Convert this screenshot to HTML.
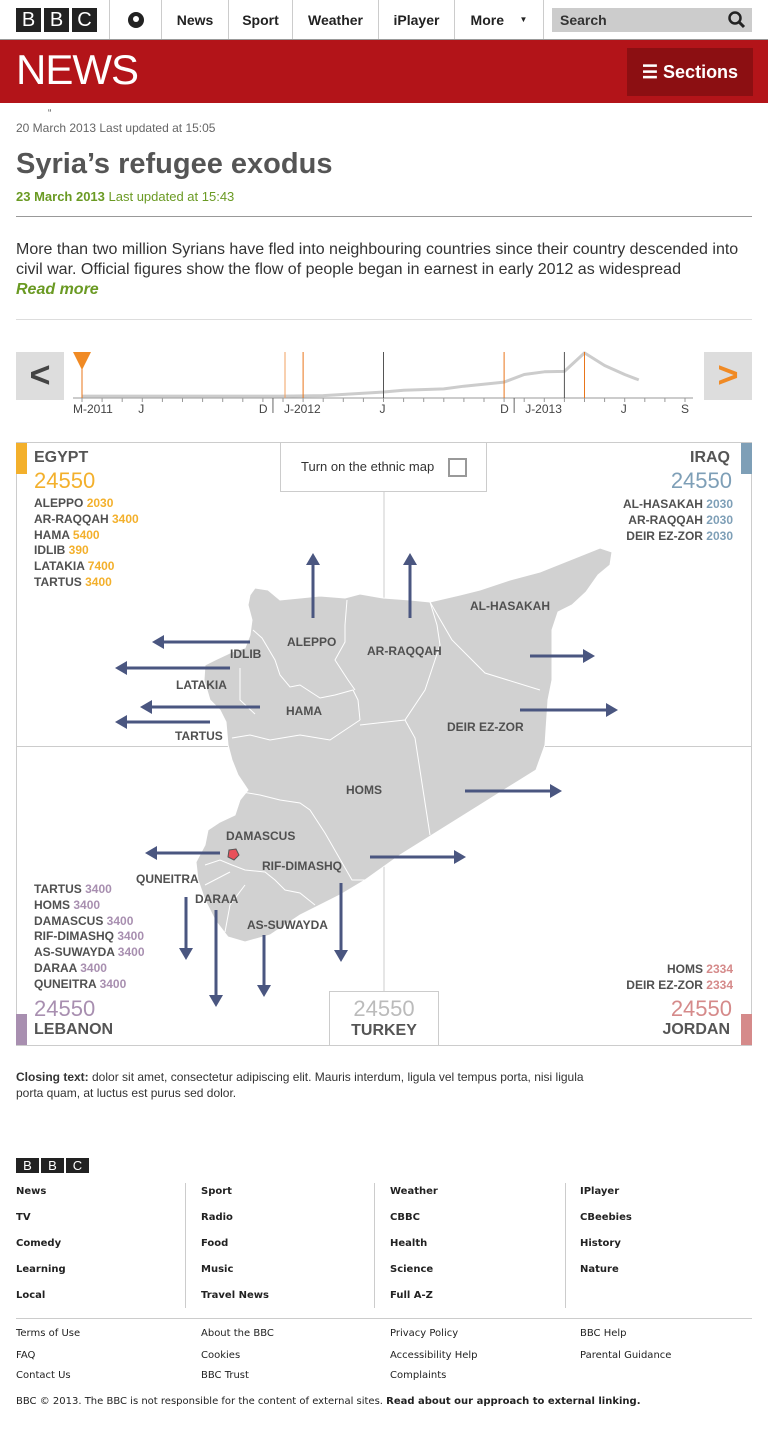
<!DOCTYPE html>
<html><head><meta charset="utf-8"><style>
*{box-sizing:border-box;margin:0;padding:0}
body{width:768px;height:1441px;background:#fff;font-family:"Liberation Sans",sans-serif;position:relative;overflow:hidden;color:#333}
.a{position:absolute}
.nav{position:absolute;top:0;height:39px;border-left:1px solid #ccc;font-size:14px;font-weight:bold;color:#222;display:flex;align-items:center;justify-content:center}
.lbl{position:absolute;font-size:12px;font-weight:bold;color:#505050;white-space:nowrap}
.list{position:absolute;font-size:12px;font-weight:bold;color:#505050;line-height:15.8px}
.fl{position:absolute;font-size:10px;font-weight:bold;color:#222;font-family:"DejaVu Sans",sans-serif;white-space:nowrap}
.fs{position:absolute;font-size:10px;color:#222;font-family:"DejaVu Sans",sans-serif;white-space:nowrap}
</style></head><body>
<!-- top bar -->
<div class="a" style="left:16px;top:8px;display:flex;gap:3px">
<span style="width:25px;height:24px;background:#222;color:#fff;font-size:20px;text-align:center;line-height:24px">B</span><span style="width:25px;height:24px;background:#222;color:#fff;font-size:20px;text-align:center;line-height:24px">B</span><span style="width:25px;height:24px;background:#222;color:#fff;font-size:20px;text-align:center;line-height:24px">C</span></div>
<div class="nav" style="left:109px;width:52px"><span style="width:16px;height:16px;border-radius:50%;background:#222;display:block;position:relative"><span style="position:absolute;left:5px;top:4px;width:6px;height:6px;border-radius:50%;background:#fff"></span></span></div>
<div class="nav" style="left:161px;width:67px">News</div>
<div class="nav" style="left:228px;width:64px">Sport</div>
<div class="nav" style="left:292px;width:86px">Weather</div>
<div class="nav" style="left:378px;width:76px">iPlayer</div>
<div class="nav" style="left:454px;width:90px;border-right:1px solid #ccc">More&nbsp;&nbsp;&nbsp;&nbsp;<span style="font-size:8px">▼</span></div>
<div class="a" style="left:552px;top:8px;width:200px;height:24px;background:#ccc;font-size:14px;font-weight:bold;color:#333;line-height:24px;padding-left:8px">Search
<svg style="position:absolute;right:6px;top:3px" width="18" height="18"><circle cx="7" cy="7" r="5.5" fill="none" stroke="#222" stroke-width="2.5"/><line x1="11" y1="11" x2="16" y2="16" stroke="#222" stroke-width="3"/></svg></div>
<div class="a" style="left:0;top:39px;width:768px;height:64px;background:#b31419;border-top:1px solid #999"></div>
<div class="a" style="left:16px;top:48px;font-size:42px;color:#fff;letter-spacing:-1px;line-height:44px">NEWS</div>
<div class="a" style="left:627px;top:48px;width:126px;height:48px;background:#8c0f12;color:#fff;font-size:18px;font-weight:bold;line-height:48px;text-align:center">☰ Sections</div>
<!-- article head -->
<div class="a" style="left:48px;top:108px;font-size:10px;color:#555">“</div>
<div class="a" style="left:16px;top:121px;font-size:12px;color:#666">20 March 2013 Last updated at 15:05</div>
<div class="a" style="left:16px;top:148px;font-size:29px;font-weight:bold;color:#555">Syria’s refugee exodus</div>
<div class="a" style="left:16px;top:189px;font-size:13px;color:#6a9a23"><b>23 March 2013</b> Last updated at 15:43</div>
<div class="a" style="left:16px;top:216px;width:736px;border-top:1px solid #999"></div>
<div class="a" style="left:16px;top:240px;width:740px;font-size:16px;line-height:20px;color:#333">More than two million Syrians have fled into neighbouring countries since their country descended into civil war. Official figures show the flow of people began in earnest in early 2012 as widespread</div>
<div class="a" style="left:16px;top:281px;font-size:16px;font-weight:bold;font-style:italic;color:#6a9a23">Read more</div>
<div class="a" style="left:16px;top:319px;width:736px;border-top:1px solid #ddd"></div>
<!-- timeline -->
<div class="a" style="left:16px;top:352px;width:48px;height:48px;background:#ddd;color:#444;font-size:36px;font-weight:bold;text-align:center;line-height:46px">&lt;</div>
<div class="a" style="left:704px;top:352px;width:48px;height:48px;background:#ddd;color:#f08a24;font-size:36px;font-weight:bold;text-align:center;line-height:46px">&gt;</div>
<svg class="a" style="left:0;top:340px" width="768" height="80" id="tl"></svg>
<!-- map -->
<svg class="a" style="left:0;top:0" width="768" height="1050" id="map">
<rect x="16.5" y="442.5" width="735" height="603" fill="none" stroke="#ccc"/>
<line x1="384" y1="492" x2="384" y2="991" stroke="#ccc"/>
<line x1="16" y1="746.5" x2="752" y2="746.5" stroke="#ccc"/>
<polygon fill="#d1d1d1" stroke="#fff" stroke-width="1" points="250,595 255,588 268,590 280,600 300,598 320,596 345,598 360,594 383,598 410,600 430,602 460,595 480,590 510,580 540,572 570,560 600,548 612,552 610,565 598,575 586,592 572,605 558,612 552,630 552,680 548,700 545,745 536,770 520,780 480,805 440,830 400,855 365,880 340,895 300,915 270,935 245,942 228,937 215,920 205,900 198,880 196,862 205,845 208,830 220,822 235,815 240,800 248,790 238,775 232,760 228,745 226,722 220,710 210,700 204,680 205,665 215,660 232,652 245,648 250,635 252,620 248,605"/>
<g fill="none" stroke="#fff" stroke-width="1">
<polyline points="253,630 262,638 275,660 280,675 290,687 300,685 320,698 335,695 353,690 358,700 360,720"/>
<polyline points="347,600 345,625 345,642 335,660 348,680 355,690"/>
<polyline points="430,602 437,625 440,645 425,690 405,720 360,725"/>
<polyline points="430,602 452,640 485,673 540,690"/>
<polyline points="405,720 415,738 430,835"/>
<polyline points="232,738 250,735 270,740 300,735 330,740 360,720"/>
<polyline points="240,668 240,700 255,714"/>
<polyline points="230,790 260,795 280,800 300,803 310,810 325,833 352,880 365,880"/>
<polyline points="205,865 220,860 232,865 245,870 265,872 275,880 285,890 300,893 315,905"/>
<polyline points="205,885 230,872"/>
<polyline points="225,932 230,905 245,885"/>
</g>
<g id="arrows"></g>
<polygon points="229,850 236,849 239,855 234,860 228,857" fill="#e8505a" stroke="#555" stroke-width="1"/>
</svg>
<div class="lbl" style="left:287px;top:635px">ALEPPO</div>
<div class="lbl" style="left:230px;top:647px">IDLIB</div>
<div class="lbl" style="left:367px;top:644px">AR-RAQQAH</div>
<div class="lbl" style="left:470px;top:599px">AL-HASAKAH</div>
<div class="lbl" style="left:176px;top:678px">LATAKIA</div>
<div class="lbl" style="left:286px;top:704px">HAMA</div>
<div class="lbl" style="left:175px;top:729px">TARTUS</div>
<div class="lbl" style="left:447px;top:720px">DEIR EZ-ZOR</div>
<div class="lbl" style="left:346px;top:783px">HOMS</div>
<div class="lbl" style="left:226px;top:829px">DAMASCUS</div>
<div class="lbl" style="left:262px;top:859px">RIF-DIMASHQ</div>
<div class="lbl" style="left:136px;top:872px">QUNEITRA</div>
<div class="lbl" style="left:195px;top:892px">DARAA</div>
<div class="lbl" style="left:247px;top:918px">AS-SUWAYDA</div>
<!-- ethnic toggle -->
<div class="a" style="left:280px;top:442px;width:207px;height:50px;border:1px solid #ccc;background:#fff;font-size:13px;color:#333;line-height:48px;padding-left:20px">Turn on the ethnic map
<span style="position:absolute;left:167px;top:15px;width:19px;height:19px;border:2px solid #999"></span></div>
<!-- Egypt -->
<div class="a" style="left:16px;top:443px;width:11px;height:31px;background:#f3b02c"></div>
<div class="a" style="left:34px;top:449px;font-size:16px;font-weight:bold;color:#555">EGYPT</div>
<div class="a" style="left:34px;top:468px;font-size:22px;color:#f3b02c">24550</div>
<div class="list" style="left:34px;top:496px">ALEPPO <span style="color:#f3b02c">2030</span><br>AR-RAQQAH <span style="color:#f3b02c">3400</span><br>HAMA <span style="color:#f3b02c">5400</span><br>IDLIB <span style="color:#f3b02c">390</span><br>LATAKIA <span style="color:#f3b02c">7400</span><br>TARTUS <span style="color:#f3b02c">3400</span></div>
<!-- Iraq -->
<div class="a" style="left:741px;top:443px;width:11px;height:31px;background:#7e9fb7"></div>
<div class="a" style="right:38px;top:449px;font-size:16px;font-weight:bold;color:#555">IRAQ</div>
<div class="a" style="right:36px;top:468px;font-size:22px;color:#7e9fb7">24550</div>
<div class="list" style="right:35px;top:497px;text-align:right">AL-HASAKAH <span style="color:#7e9fb7">2030</span><br>AR-RAQQAH <span style="color:#7e9fb7">2030</span><br>DEIR EZ-ZOR <span style="color:#7e9fb7">2030</span></div>
<!-- Lebanon -->
<div class="list" style="left:34px;top:882px">TARTUS <span style="color:#a88fb0">3400</span><br>HOMS <span style="color:#a88fb0">3400</span><br>DAMASCUS <span style="color:#a88fb0">3400</span><br>RIF-DIMASHQ <span style="color:#a88fb0">3400</span><br>AS-SUWAYDA <span style="color:#a88fb0">3400</span><br>DARAA <span style="color:#a88fb0">3400</span><br>QUNEITRA <span style="color:#a88fb0">3400</span></div>
<div class="a" style="left:34px;top:996px;font-size:22px;color:#a88fb0">24550</div>
<div class="a" style="left:34px;top:1021px;font-size:16px;font-weight:bold;color:#555">LEBANON</div>
<div class="a" style="left:16px;top:1014px;width:11px;height:31px;background:#a88fb0"></div>
<!-- Turkey -->
<div class="a" style="left:329px;top:991px;width:110px;height:55px;border:1px solid #ccc;background:#fff;text-align:center">
<div style="font-size:22px;color:#bbb;margin-top:4px">24550</div>
<div style="font-size:16px;font-weight:bold;color:#555">TURKEY</div></div>
<!-- Jordan -->
<div class="list" style="right:35px;top:962px;text-align:right">HOMS <span style="color:#d58a8a">2334</span><br>DEIR EZ-ZOR <span style="color:#d58a8a">2334</span></div>
<div class="a" style="right:36px;top:996px;font-size:22px;color:#d58a8a">24550</div>
<div class="a" style="right:38px;top:1021px;font-size:16px;font-weight:bold;color:#555">JORDAN</div>
<div class="a" style="left:741px;top:1014px;width:11px;height:31px;background:#d58a8a"></div>
<!-- closing -->
<div class="a" style="left:16px;top:1069px;width:640px;font-size:12px;line-height:16px;color:#333"><b>Closing text:</b> dolor sit amet, consectetur adipiscing elit. Mauris interdum, ligula vel tempus porta, nisi ligula<br>porta quam, at luctus est purus sed dolor.</div>
<!-- footer -->
<div class="a" style="left:16px;top:1158px;display:flex;gap:2px">
<span style="width:23px;height:15px;background:#222;color:#fff;font-size:13px;text-align:center;line-height:15px">B</span><span style="width:23px;height:15px;background:#222;color:#fff;font-size:13px;text-align:center;line-height:15px">B</span><span style="width:23px;height:15px;background:#222;color:#fff;font-size:13px;text-align:center;line-height:15px">C</span></div>
<div class="a" style="left:185px;top:1183px;height:125px;border-left:1px solid #ccc"></div>
<div class="a" style="left:374px;top:1183px;height:125px;border-left:1px solid #ccc"></div>
<div class="a" style="left:565px;top:1183px;height:125px;border-left:1px solid #ccc"></div>
<div class="a" style="left:16px;top:1318px;width:736px;border-top:1px solid #ccc"></div>
<div id="foot"></div>
<div class="fs" style="left:16px;top:1396px">BBC © 2013. The BBC is not responsible for the content of external sites. <b>Read about our approach to external linking.</b></div>
<script>
// ===== timeline data =====
const tlMonths=[0,10,12,15,16,18,19,21,22,23,24,25,26,27,27.7];
const tlValues=[20,20,30,110,150,180,240,330,500,560,570,980,700,500,380];
const tickLabels=["M-2011","J","D","J-2012","J","D","J-2013","J","S"];
const tickLabelMonths=[0,3,9,10,15,21,22,27,30];
const markerMonths=[0,10.1,11,15,21,24,25];
const markerColors=["#e8751a","#f0a060","#e8751a","#555","#e8751a","#555","#e8751a"];
const NS="http://www.w3.org/2000/svg";
const tl=document.getElementById('tl');
const X=m=>82+20.1*m, Y=v=>57-v*0.045;
function mk(tag,at,par){const e=document.createElementNS(NS,tag);for(const k in at)e.setAttribute(k,at[k]);par.appendChild(e);return e;}
mk('line',{x1:73,y1:58,x2:693,y2:58,stroke:'#999'},tl);
for(let m=0;m<=30;m++){const t=mk('line',{x1:X(m),y1:58,x2:X(m),y2:62,stroke:'#999'},tl);

}
[9.5,21.5].forEach(m=>{const t=mk('line',{x1:X(m),y1:58,x2:X(m),y2:73,stroke:'#666'},tl);

});
const pts=tlMonths.map((m,i)=>X(m)+','+Y(tlValues[i])).join(' ');
const pl=mk('polyline',{points:pts,fill:'none',stroke:'#ccc','stroke-width':3,'stroke-linejoin':'round'},tl);


markerMonths.forEach((m,i)=>{const l=mk('line',{x1:X(m),y1:12,x2:X(m),y2:58,stroke:markerColors[i],'stroke-width':1},tl);

});
const tri=mk('polygon',{points:`${X(0)-9},12 ${X(0)+9},12 ${X(0)},30`,fill:'#f08a24'},tl);


tickLabels.forEach((s,i)=>{
const t=mk('text',{x:i==0?73:(s.length>1?X(tickLabelMonths[i])+1:X(tickLabelMonths[i])-4),y:73,'font-size':12,fill:'#444','font-family':'Liberation Sans'},tl);
t.textContent=s;

});
// ===== arrows =====
const arrowFrom=[[313,618],[410,618],[250,642],[230,668],[260,707],[210,722],[220,853],[530,656],[520,710],[465,791],[370,857],[186,897],[216,910],[264,935],[341,883]];
const arrowTo=[[313,553],[410,553],[152,642],[115,668],[140,707],[115,722],[145,853],[595,656],[618,710],[562,791],[466,857],[186,960],[216,1007],[264,997],[341,962]];
const ag=document.getElementById('arrows');
arrowFrom.forEach((f,i)=>{const t=arrowTo[i];const dx=t[0]-f[0],dy=t[1]-f[1],L=Math.hypot(dx,dy),ux=dx/L,uy=dy/L;
const bx=t[0]-ux*12,by=t[1]-uy*12;
const l=mk('line',{x1:f[0],y1:f[1],x2:bx,y2:by,stroke:'#4a5680','stroke-width':3},ag);


const h=mk('polygon',{points:`${t[0]},${t[1]} ${bx-uy*7},${by+ux*7} ${bx+uy*7},${by-ux*7}`,fill:'#4a5680'},ag);

});
// ===== footer =====
const cols=[16,201,390,580];
const main=[["News","TV","Comedy","Learning","Local"],["Sport","Radio","Food","Music","Travel News"],["Weather","CBBC","Health","Science","Full A-Z"],["IPlayer","CBeebies","History","Nature"]];
const sub=[["Terms of Use","FAQ","Contact Us"],["About the BBC","Cookies","BBC Trust"],["Privacy Policy","Accessibility Help","Complaints"],["BBC Help","Parental Guidance"]];
const subY=[1328,1350,1370];
const foot=document.getElementById('foot');
main.forEach((c,ci)=>c.forEach((s,ri)=>{const d=document.createElement('div');d.className='fl';d.style.left=cols[ci]+'px';d.style.top=(1186+26*ri)+'px';d.textContent=s;


foot.appendChild(d);}));
sub.forEach((c,ci)=>c.forEach((s,ri)=>{const d=document.createElement('div');d.className='fs';d.style.left=cols[ci]+'px';d.style.top=subY[ri]+'px';d.textContent=s;


foot.appendChild(d);}));
</script>
</body></html>
